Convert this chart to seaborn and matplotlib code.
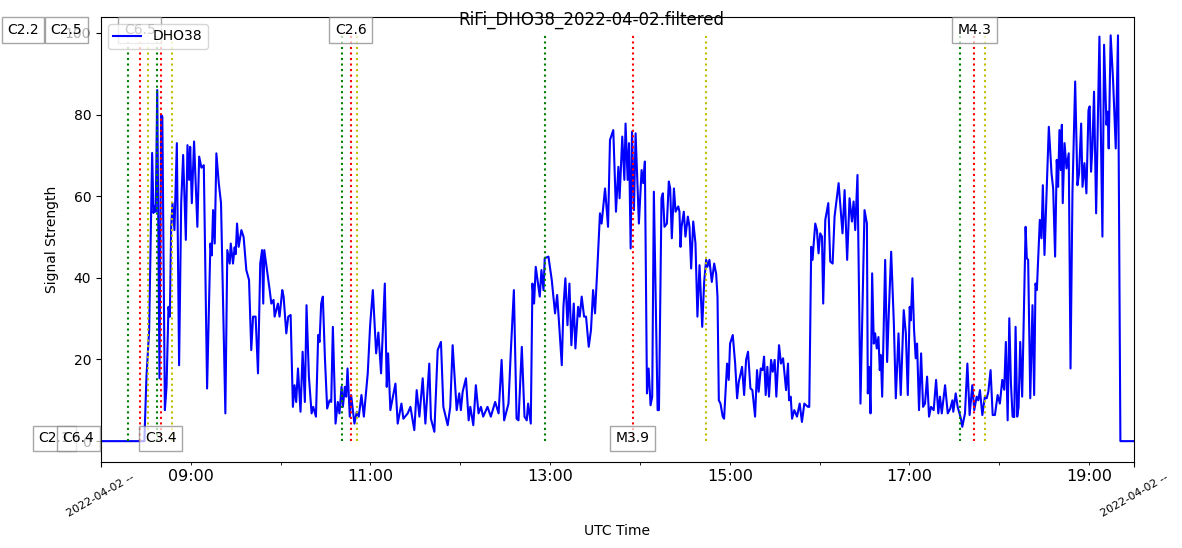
import matplotlib
matplotlib.use("Agg")
import matplotlib.pyplot as plt
import matplotlib.dates as mdates
import seaborn as sns
import pandas as pd

# signal trace: minutes after 08:00 UTC and signal strength
minutes = [0, 29, 30.4, 32.2, 34.2, 35.1, 36.0, 36.6, 37.6, 39.1, 40.2, 41.0, 42.7, 43.8, 45.1, 46.0, 46.9, 47.8, 49.1, 50.7,
           52.2, 53.6, 54.9, 56.7, 57.8, 58.9, 59.6, 60.7, 62.2, 64.4, 65.6, 67.1, 68.7, 70.9, 73.1, 74.0, 74.9, 76.0, 77.1, 78.7,
           80.2, 83.1, 84.4, 86.0, 86.7, 88.2, 89.3, 90.0, 90.9, 92.0, 93.8, 95.3, 97.1, 98.9, 100.4, 101.6, 103.3, 104.9, 106.4, 107.6,
           108.4, 109.1, 110.9, 112.7, 113.8, 115.3, 116.0, 118.2, 119.3, 121.1, 122.0,
           123.8, 125.1, 126.7, 128.2, 129.3, 130.4, 131.6, 133.3, 134.7, 136.2, 137.3, 138.9, 140.7, 141.8, 143.6, 145.1, 146.0, 147.1,
           148.2, 149.6, 151.1, 152.7, 153.8, 154.9, 156.7, 158.2, 159.3, 160.7, 161.6, 162.9, 163.8, 164.7, 166.2, 167.1, 169.3, 170.9,
           172.2, 174.0, 175.6, 178.2, 179.8, 181.6, 183.8, 185.3, 187.1, 189.6, 190.9, 191.8, 193.3, 196.7, 198.2, 200.7, 202.0, 204.9,
           206.7, 209.3, 210.9, 212.7, 214.9, 216.7, 219.3, 220.4, 222.7, 224.9, 227.1, 228.7, 231.6, 233.3, 234.9, 237.6, 239.3, 240.4,
           241.6,
           243.8, 245.6, 246.7, 248.7, 250.4, 252.2, 253.8, 255.3, 258.2, 260.4, 263.3, 265.6, 267.6, 269.3, 272.2, 273.8, 275.8, 277.6,
           278.9, 281.1, 282.9, 284.4, 285.3, 287.1, 288.2, 289.3, 290.4, 293.1, 294.2, 295.6, 296.4, 298.9, 301.1, 303.3, 304.7, 306.0,
           307.8, 308.9, 310.2, 311.6, 312.9, 314.2, 315.8, 316.9, 318.7, 319.8, 321.1, 322.7, 324.0, 325.8, 327.3, 328.7, 330.0, 331.6,
           333.3, 334.4, 336.7, 338.7, 340.0, 342.2, 344.0, 345.6, 346.4, 348.2, 349.6, 350.4, 351.8, 352.7, 353.8, 354.7, 356.0, 357.1,
           359.3, 361.1, 362.2, 363.3,
           364.7, 365.8, 367.1, 368.2, 369.3, 371.8, 372.7, 374.4, 375.3, 376.4, 378.0, 379.3, 380.2, 381.3, 382.7, 383.8, 385.6, 386.4,
           387.1, 387.8, 389.3, 390.4, 392.0, 393.1, 394.2, 395.6, 397.1, 398.4, 399.8, 401.6, 402.9, 404.2, 405.1, 406.4, 408.0, 409.6,
           410.9, 411.8, 412.7, 413.8, 415.3, 416.2, 418.2, 419.3, 420.2, 422.0, 423.6, 424.9, 426.0, 427.3, 428.2, 429.6, 430.9, 432.2,
           433.8, 435.1, 436.9, 438.2, 439.3, 440.7, 441.9, 442.9, 444.0, 445.1, 446.2, 447.6, 448.7, 450.0, 451.1, 452.9, 454.2, 455.6,
           457.6, 458.9, 459.6, 460.7, 461.6, 463.1, 464.9, 466.7, 468.2, 469.8, 472.2, 473.1, 474.4, 475.3, 475.9, 477.1, 478.2, 479.3,
           480.4, 481.6, 482.4,
           483.8, 485.8, 487.1, 488.7, 490.0, 492.7, 495.3, 496.7, 498.4, 500.0, 501.6, 502.7, 503.8, 505.3, 507.3, 510.0, 511.6, 512.2,
           513.1, 514.0, 515.1, 516.2, 517.1, 518.2, 519.3, 520.2, 520.9, 521.8, 522.7, 523.8, 525.1, 526.2, 527.8, 529.6, 530.9, 532.7,
           534.2, 536.2, 537.6, 538.9, 540.2, 540.9, 542.0, 543.1, 544.2, 545.1, 546.4, 547.8, 549.1, 550.4, 551.8, 553.1, 554.4, 556.2,
           557.8, 559.3, 560.4, 561.6, 563.8, 565.6, 567.3, 568.7, 569.3, 570.9, 572.2, 574.4, 575.3, 577.1, 578.7, 580.2, 582.0, 583.3,
           584.9, 586.0, 587.1, 588.7, 590.4, 591.6, 592.7, 594.2, 595.6, 597.1, 598.9, 600.4, 602.0,
           603.3, 604.4, 605.6, 606.7, 607.8, 608.9, 610.0, 610.9, 612.0, 612.9, 614.0, 615.3, 617.6, 618.4, 619.3, 620.7, 622.2, 623.3,
           624.2, 625.1, 627.1, 628.2, 629.1, 630.2, 633.1, 634.9, 636.0, 637.3, 638.4, 639.3, 640.2, 641.1, 641.8, 642.4, 643.6, 644.9,
           646.4, 647.6, 648.9, 650.7, 652.2, 653.3, 654.7, 655.6, 656.9, 658.2, 659.6, 660.4, 661.3, 662.2, 663.3, 664.7, 666.9, 668.9,
           670.0, 671.6, 672.4, 673.1, 674.4, 676.0, 677.8, 679.3, 680.9, 690.0]
signal = [0, 0, 15.8, 27.2, 70.6, 55.9, 57.5, 56.2, 86.0, 15.4, 79.9, 79.5, 7.6, 13.3, 32.9, 30.5, 52.5, 58.3, 51.7, 73.0,
          18.6, 58.3, 70.1, 49.3, 72.5, 64.0, 72.1, 58.3, 73.4, 52.5, 69.7, 67.0, 67.6, 12.9, 48.4, 45.5, 56.6, 48.4, 70.5, 63.2,
          58.3, 6.8, 46.8, 43.5, 48.4, 43.5, 47.5, 45.8, 53.3, 47.6, 51.7, 50.0, 41.9, 39.5, 22.3, 30.5, 30.5, 16.6, 43.5, 46.8,
          33.7, 46.8, 41.9, 37.0, 33.7, 34.6, 30.5, 33.7, 30.5, 37.0, 35.4,
          26.4, 30.5, 30.9, 8.4, 13.7, 9.6, 17.8, 7.2, 21.9, 9.6, 33.3, 15.8, 6.8, 8.4, 6.0, 26.0, 24.3, 33.7,
          35.4, 20.3, 8.0, 10.0, 9.6, 28.0, 4.3, 9.6, 6.8, 13.3, 8.4, 13.3, 10.9, 17.8, 6.0, 11.3, 4.3, 7.2,
          6.0, 11.3, 6.0, 16.6, 28.4, 37.0, 21.5, 26.6, 16.6, 38.6, 13.3, 21.5, 7.6, 14.1, 4.3, 9.2, 5.5, 6.8,
          8.4, 2.7, 12.5, 6.0, 15.4, 4.3, 19.0, 5.5, 2.3, 22.3, 24.3, 8.4, 3.9, 8.4, 23.5, 7.6, 11.7, 7.6,
          12.1,
          15.4, 5.1, 8.4, 3.9, 13.7, 6.8, 8.4, 6.0, 8.4, 6.0, 9.6, 6.8, 19.9, 5.1, 9.2, 22.3, 37.0, 5.5,
          5.1, 23.1, 6.0, 5.1, 9.2, 4.3, 38.6, 33.7, 42.7, 35.4, 41.9, 37.0, 44.8, 45.2, 39.5, 31.3, 35.8, 28.8,
          18.6, 32.9, 39.9, 28.4, 38.6, 23.5, 33.7, 22.7, 32.9, 30.5, 35.4, 30.5, 30.5, 23.1, 27.2, 37.0, 31.3, 42.7,
          55.8, 53.3, 61.9, 52.5, 73.8, 76.2, 56.2, 67.2, 59.5, 74.6, 64.0, 77.8, 64.0, 73.0, 47.2, 75.8, 56.6, 75.4,
          53.3, 66.4, 63.2, 68.5,
          11.7, 17.8, 8.8, 10.9, 61.1, 7.6, 7.6, 59.5, 60.7, 52.5, 53.3, 63.6, 61.9, 49.7, 61.9, 56.2, 57.5, 56.2,
          47.6, 52.5, 56.2, 50.1, 55.0, 52.5, 42.3, 53.8, 48.4, 30.5, 43.1, 28.0, 39.0, 44.4, 42.7, 44.4, 39.0, 43.5,
          41.0, 35.4, 10.0, 9.2, 6.0, 5.5, 19.0, 15.0, 23.9, 26.0, 19.0, 10.5, 14.5, 16.6, 18.2, 11.3, 19.9, 21.9,
          12.9, 12.5, 6.0, 17.4, 12.1, 17.8, 17.4, 20.7, 11.3, 18.2, 10.9, 19.9, 17.0, 19.9, 10.9, 23.5, 19.0, 20.3,
          12.5, 19.0, 10.0, 10.9, 5.5, 7.6, 6.0, 9.2, 4.7, 9.2, 8.4, 8.4, 47.6, 44.4, 47.6, 53.3, 51.7, 46.0,
          50.9, 50.1, 33.7,
          54.2, 58.3, 44.0, 43.5, 55.0, 63.2, 50.9, 61.5, 44.4, 59.5, 53.8, 58.7, 51.7, 65.2, 9.2, 56.6, 53.3, 11.7,
          18.2, 6.8, 41.1, 23.9, 26.4, 22.7, 25.5, 17.4, 21.1, 10.9, 25.5, 44.4, 19.4, 31.3, 46.4, 28.8, 10.5, 26.4,
          11.3, 32.1, 26.4, 11.3, 32.9, 29.6, 39.9, 27.2, 20.3, 23.9, 7.6, 21.5, 8.4, 9.2, 15.8, 6.0, 8.4, 7.6,
          15.0, 6.8, 10.9, 6.8, 13.7, 6.8, 8.0, 10.0, 7.2, 11.7, 8.4, 5.5, 3.5, 6.8, 19.0, 6.4, 13.7, 7.6,
          10.9, 10.0, 12.5, 6.4, 10.9, 10.5, 12.1, 17.4, 6.4, 6.4, 11.3, 9.2, 15.0,
          12.6, 24.3, 5.1, 30.1, 14.1, 6.0, 5.9, 28.0, 6.0, 8.4, 24.3, 10.9, 52.5, 44.8, 44.4, 10.5, 33.3, 11.3,
          38.6, 37.0, 54.2, 49.7, 62.7, 45.6, 77.0, 65.6, 61.9, 45.2, 68.9, 62.3, 76.2, 66.4, 77.5, 58.3, 73.0, 66.8,
          70.5, 17.8, 61.1, 88.1, 62.7, 65.6, 77.8, 62.3, 68.1, 60.7, 81.1, 82.0, 66.0, 71.7, 85.6, 55.8, 99.1, 50.1,
          97.1, 77.5, 80.7, 71.7, 99.4, 88.5, 71.7, 99.4, 0.0, 0.0]

# flares: class, start / peak / end (UTC)
flare_class = ["C2.2", "C2.1", "C2.5", "C6.4", "C6.5", "C3.4", "C2.6", "M3.9", "M4.3"]
flare_start = ["07:02", "07:22", "07:31", "07:38", "08:18", "08:37.6", "10:40.9", "12:56.5", "17:33.8"]
flare_peak = ["07:08", "07:29", "07:37", "07:45", "08:26", "08:40", "10:46.9", "13:55.1", "17:43.2"]
flare_end = ["07:14", "07:36", "07:44", "07:52", "08:31.6", "08:47.3", "10:50.9", "14:44.1", "17:50.3"]

base = pd.Timestamp("2022-04-02 08:00")


def to_time(s):
    h, m = s.split(":")
    return pd.Timestamp("2022-04-02") + pd.Timedelta(hours=int(h), minutes=float(m))


df = pd.DataFrame({"time": base + pd.to_timedelta(minutes, unit="min"), "signal": signal})

fig, ax = plt.subplots(figsize=(11.82, 5.48), dpi=100)
fig.subplots_adjust(left=0.0854, right=0.9594, top=0.969, bottom=0.157)

sns.lineplot(data=df, x="time", y="signal", ax=ax, color="blue", linewidth=1.5,
             label="DHO38", sort=False, estimator=None)

top = max(signal)
for i, cls in enumerate(flare_class):
    ts, tp, te = to_time(flare_start[i]), to_time(flare_peak[i]), to_time(flare_end[i])
    ax.vlines(ts, 0, top, colors="g", linestyles=":", linewidth=1.5)
    ax.vlines(tp, 0, top, colors="r", linestyles=":", linewidth=1.5)
    ax.vlines(te, 0, top, colors="y", linestyles=":", linewidth=1.5)
    ypos = 100 if i % 2 == 0 else 0
    ax.text(tp, ypos + 0.7, cls, ha="center", va="center", fontsize=10,
            bbox=dict(boxstyle="square,pad=0.4", fc="white", ec="gray", alpha=0.7))

t0 = base
t1 = base + pd.Timedelta(hours=11, minutes=30)
ax.set_xlim(t0, t1)
ax.set_ylim(-5.1, 103.9)
ax.set_yticks([0, 20, 40, 60, 80, 100])

ax.set_xticks([mdates.date2num(t0), mdates.date2num(t1)])
ax.set_xticklabels(["2022-04-02 --", "2022-04-02 --"], rotation=30, fontsize=8)
hours = [base + pd.Timedelta(hours=h) for h in range(1, 12)]
hour_labels = [t.strftime("%H:%M") if t.hour % 2 == 1 else "" for t in hours]
ax.set_xticks([mdates.date2num(t) for t in hours], labels=hour_labels, minor=True)
ax.tick_params(axis="x", which="minor", labelsize=11.5)

ax.set_xlabel("UTC Time")
ax.set_ylabel("Signal Strength")
ax.legend(loc="upper left")
fig.suptitle("RiFi_DHO38_2022-04-02.filtered")

fig.savefig("out.png", dpi=100)
